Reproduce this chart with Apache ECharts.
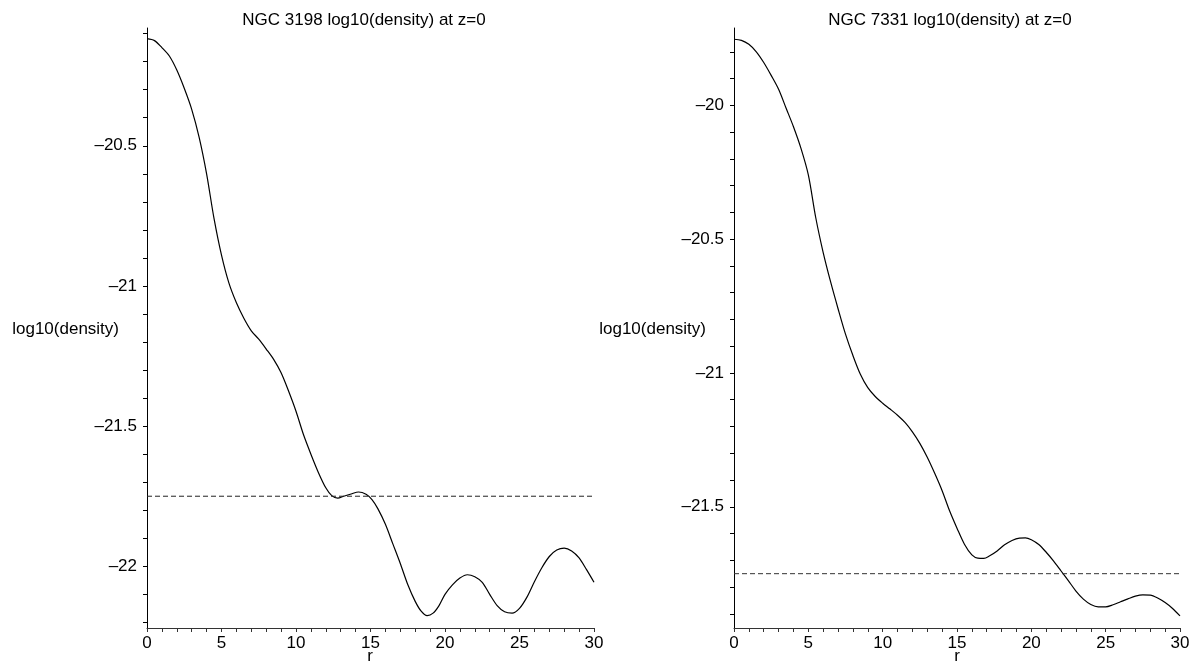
<!DOCTYPE html>
<html>
<head>
<meta charset="utf-8">
<script src="https://cdn.jsdelivr.net/npm/echarts@6/dist/echarts.min.js"></script>
<style>
html,body{margin:0;padding:0;background:#fff;}
#chart{width:1196px;height:664px;}
</style>
</head>
<body>
<div id="chart"></div>
<script>
// NGC 3198 (left panel)
var r3198 = [0, 0.5, 1, 1.5, 2, 2.5, 3, 3.5, 4, 4.5, 5, 5.5, 6, 6.5, 7, 7.5, 8, 8.5, 9, 9.5, 10, 10.5, 11, 11.5, 12, 12.4, 12.8, 13.2, 13.7, 14.2, 14.7, 15.1, 15.5, 16, 16.5, 17, 17.5, 18, 18.4, 18.8, 19.2, 19.6, 20, 20.5, 21, 21.5, 22, 22.5, 23, 23.5, 24, 24.5, 25, 25.5, 26, 26.5, 27, 27.5, 28, 28.5, 29, 29.5, 30];
var d3198 = [-20.118, -20.125, -20.15, -20.18, -20.23, -20.295, -20.37, -20.47, -20.6, -20.76, -20.89, -20.99, -21.06, -21.115, -21.16, -21.19, -21.225, -21.262, -21.31, -21.375, -21.447, -21.53, -21.6, -21.665, -21.72, -21.748, -21.757, -21.75, -21.742, -21.735, -21.743, -21.762, -21.795, -21.85, -21.92, -21.99, -22.065, -22.125, -22.16, -22.176, -22.167, -22.14, -22.1, -22.066, -22.042, -22.03, -22.037, -22.057, -22.1, -22.14, -22.162, -22.167, -22.15, -22.11, -22.055, -22.005, -21.965, -21.942, -21.935, -21.945, -21.97, -22.012, -22.057];
// NGC 7331 (right panel)
var r7331 = [0, 0.5, 1, 1.5, 2, 2.5, 3, 3.5, 4, 4.5, 5, 5.5, 6, 6.5, 7, 7.5, 8, 8.5, 9, 9.5, 10, 10.5, 11, 11.5, 12, 12.5, 13, 13.5, 14, 14.5, 15, 15.5, 16, 16.4, 16.8, 17.2, 17.7, 18.2, 18.7, 19.2, 19.6, 20, 20.5, 21, 21.5, 22, 22.5, 23, 23.5, 24, 24.5, 25, 25.5, 26, 26.5, 27, 27.5, 28, 28.5, 29, 29.5, 30];
var d7331 = [-19.753, -19.757, -19.772, -19.8, -19.84, -19.888, -19.94, -20.01, -20.08, -20.16, -20.26, -20.42, -20.55, -20.66, -20.76, -20.855, -20.935, -21.005, -21.055, -21.088, -21.113, -21.135, -21.158, -21.185, -21.22, -21.263, -21.315, -21.375, -21.44, -21.515, -21.58, -21.64, -21.68, -21.692, -21.693, -21.683, -21.665, -21.642, -21.626, -21.617, -21.616, -21.623, -21.641, -21.67, -21.703, -21.74, -21.777, -21.815, -21.845, -21.865, -21.874, -21.874, -21.866, -21.855, -21.844, -21.834, -21.829, -21.83, -21.841, -21.858, -21.88, -21.908];
// reference (dashed) level, same in both panels
var rLevel = [0, 30];
var dLevel = [-21.75, -21.75];

var titles = ['NGC 3198 log10(density) at z=0', 'NGC 7331 log10(density) at z=0'];
var yName = 'log10(density)';
var xName = 'r';
var xLabels = [0, 5, 10, 15, 20, 25, 30];
var yLabels3198 = [-20.5, -21, -21.5, -22];
var yLabels7331 = [-20, -20.5, -21, -21.5];
var yRange3198 = [-22.22, -20.08];
var yRange7331 = [-21.953, -19.711];

function zip(a, b) { return a.map(function (v, i) { return [v, b[i]]; }); }
function tenths(lo, hi) { var out = []; for (var k = lo; k <= hi; k++) out.push(k / 10); return out; }
var xMinor = []; for (var i = 0; i <= 30; i++) xMinor.push(i);

var FONT = "'Liberation Sans', Arial, Helvetica, sans-serif";
var FS = 17;
function fmt(v) { return (v < 0 ? '\u2013' : '') + Math.abs(v); }

function xAxisOf(idx) {
  return {
    type: 'value', gridIndex: idx, min: 0, max: 30, interval: 5,
    axisLine: { show: true, onZero: false, lineStyle: { color: '#333', width: 1 } },
    axisTick: { show: true, length: 4, customValues: xMinor, lineStyle: { color: '#333' } },
    axisLabel: { fontFamily: FONT, fontSize: FS, color: '#000', margin: 7, customValues: xLabels },
    splitLine: { show: false }
  };
}
function yAxisOf(idx, range, labels, tickLo, tickHi) {
  return {
    type: 'value', gridIndex: idx, min: range[0], max: range[1],
    axisLine: { show: true, onZero: false, lineStyle: { color: '#000', width: 1 } },
    axisTick: { show: true, length: 4, customValues: tenths(tickLo, tickHi), lineStyle: { color: '#000' } },
    axisLabel: { fontFamily: FONT, fontSize: FS, color: '#000', margin: 10, customValues: labels, formatter: fmt },
    splitLine: { show: false }
  };
}
function label(text, x, y, align) {
  return { type: 'text', x: x, y: y, silent: true,
    style: { text: text, font: FS + 'px ' + FONT, fill: '#000', align: align, verticalAlign: 'middle' } };
}

var chart = echarts.init(document.getElementById('chart'));
chart.setOption({
  animation: false,
  backgroundColor: '#fff',
  title: [
    { text: titles[0], left: 359, top: 7, textAlign: 'center', textStyle: { fontFamily: FONT, fontSize: FS, fontWeight: 'normal', color: '#000' } },
    { text: titles[1], left: 945, top: 7, textAlign: 'center', textStyle: { fontFamily: FONT, fontSize: FS, fontWeight: 'normal', color: '#000' } }
  ],
  grid: [
    { left: 147, right: 602, top: 28, bottom: 36, containLabel: false, outerBoundsMode: 'none' },
    { left: 734, right: 16, top: 28, bottom: 36, containLabel: false, outerBoundsMode: 'none' }
  ],
  xAxis: [xAxisOf(0), xAxisOf(1)],
  yAxis: [
    yAxisOf(0, yRange3198, yLabels3198, -222, -201),
    yAxisOf(1, yRange7331, yLabels7331, -219, -198)
  ],
  graphic: [
    label(yName, 119, 329, 'right'),
    label(yName, 706, 329, 'right'),
    label(xName, 370, 656, 'center'),
    label(xName, 957, 656, 'center')
  ],
  series: [
    { type: 'line', xAxisIndex: 0, yAxisIndex: 0, data: zip(r3198, d3198), smooth: 0.3, showSymbol: false,
      lineStyle: { color: '#000', width: 1.2 } },
    { type: 'line', xAxisIndex: 0, yAxisIndex: 0, data: zip(rLevel, dLevel), showSymbol: false,
      lineStyle: { color: '#222', width: 1, type: [5, 3] } },
    { type: 'line', xAxisIndex: 1, yAxisIndex: 1, data: zip(r7331, d7331), smooth: 0.3, showSymbol: false,
      lineStyle: { color: '#000', width: 1.2 } },
    { type: 'line', xAxisIndex: 1, yAxisIndex: 1, data: zip(rLevel, dLevel), showSymbol: false,
      lineStyle: { color: '#333', width: 1, type: [5, 3] } }
  ]
});
</script>
</body>
</html>
